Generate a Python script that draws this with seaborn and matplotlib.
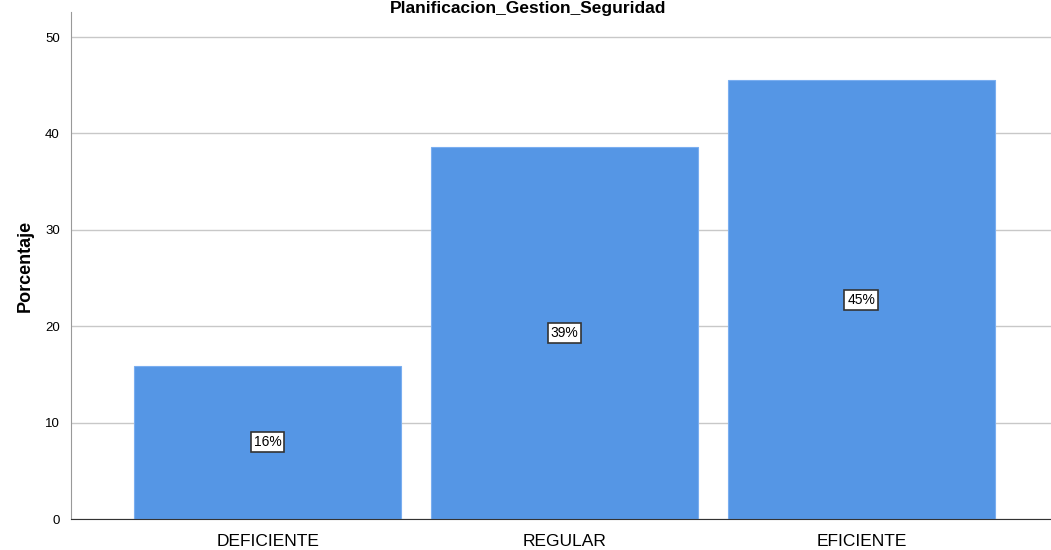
import pandas as pd
import seaborn as sns
import matplotlib.pyplot as plt

categorias = ["DEFICIENTE", "REGULAR", "EFICIENTE"]
porcentajes = [15.9, 38.6, 45.5]
etiquetas = ["16%", "39%", "45%"]

df = pd.DataFrame({"categoria": categorias, "porcentaje": porcentajes})

sns.set_style("white")
plt.rcParams['font.family'] = ['Arial', 'Liberation Sans', 'DejaVu Sans']
plt.rcParams['text.color'] = 'black'
plt.rcParams['xtick.color'] = 'black'
plt.rcParams['ytick.color'] = 'black'
plt.rcParams['axes.labelcolor'] = 'black'

fig = plt.figure(figsize=(10.51, 5.5), dpi=100)
ax = fig.add_axes([71 / 1051, 31 / 550, 987 / 1051, 507 / 550])

sns.barplot(data=df, x="categoria", y="porcentaje", color="#5596e5",
            saturation=1, width=0.9, edgecolor="#7aaef0", linewidth=0.8,
            ax=ax, zorder=2)

# etiquetas en el centro de cada barra
for i, (v, t) in enumerate(zip(porcentajes, etiquetas)):
    ax.text(i, v / 2, t, ha="center", va="center", fontsize=10,
            bbox=dict(boxstyle="square,pad=0.22", fc="white", ec="#333333", lw=1.2),
            zorder=3)

ax.set_ylim(0, 52.6)
ax.set_xlim(-0.662, 2.662)
ax.set_yticks([0, 10, 20, 30, 40, 50])
ax.yaxis.grid(True, color="#c8c8c8", lw=1, zorder=0)
ax.set_axisbelow(True)
ax.tick_params(axis="y", labelsize=9.5, length=0, pad=8)
ax.tick_params(axis="x", labelsize=12.5, length=0, pad=11)
ax.set_xlabel("")
ax.set_ylabel("Porcentaje", fontsize=13, fontweight="bold", labelpad=8)

for s in ["top", "right"]:
    ax.spines[s].set_visible(False)
ax.spines["left"].set_color("#999999")
ax.spines["bottom"].set_color("#333333")

fig.text(0.502, 1 - 1 / 550, "Planificacion_Gestion_Seguridad", ha="center",
         va="top", fontsize=12.5, fontweight="bold")

fig.savefig("out.png", dpi=100)
